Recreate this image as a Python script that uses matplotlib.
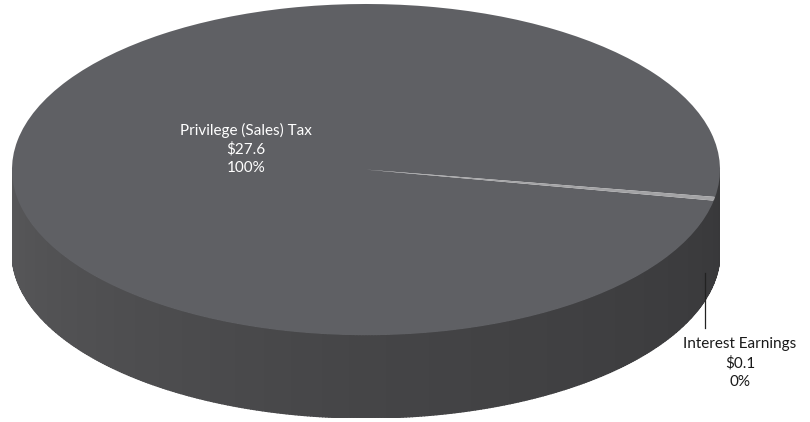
import numpy as np
import matplotlib.pyplot as plt
import matplotlib.colors as mcolors

# data
labels = ["Privilege (Sales) Tax", "Interest Earnings"]
values = [27.6, 0.1]
pct_text = ["100%", "0%"]
top_colors = ["#5f6064", "#a3a3a5"]

plt.rcParams['font.family'] = ['Lato', 'DejaVu Sans']

W, H = 810, 422
fig = plt.figure(figsize=(W / 100, H / 100), dpi=100)

# pie axes (ellipse box)
left, right, top, bottom = 12, 720, 4, 418
depth = 0.50
ax = fig.add_axes([left / W, 1 - bottom / H, (right - left) / W, (bottom - top) / H])
start = -9.5
wedges, _ = ax.pie(values, colors=top_colors, startangle=start, radius=1,
                   wedgeprops=dict(linewidth=0), normalize=True)
ax.set_aspect('auto')
ax.set_xlim(-1, 1)
ax.set_ylim(-1 - depth, 1)
ax.axis('off')

# side of the cylinder (front half only), shaded by angle
c_left = np.array(mcolors.to_rgb("#58585a"))
c_mid = np.array(mcolors.to_rgb("#454547"))
c_right = np.array(mcolors.to_rgb("#38383a"))

def side_color(ang):
    t = (ang - 180) / 180.0
    if t < 0.5:
        return c_left + (c_mid - c_left) * (t / 0.5)
    return c_mid + (c_right - c_mid) * ((t - 0.5) / 0.5)

frac = np.array(values) / sum(values)
bounds = start + 360 * np.concatenate([[0], np.cumsum(frac)])
for i in range(len(values)):
    a0, a1 = bounds[i], bounds[i + 1]
    for shift in (-360, 0, 360):
        lo = max(a0 + shift, 180)
        hi = min(a1 + shift, 360)
        if hi <= lo:
            continue
        steps = np.append(np.arange(lo, hi, 0.5), hi)
        for s0, s1 in zip(steps[:-1], steps[1:]):
            th = np.radians(np.linspace(s0, s1, 3))
            x = np.cos(th)
            y = np.sin(th)
            col = side_color((s0 + s1) / 2)
            ax.fill(np.concatenate([x, x[::-1]]),
                    np.concatenate([y, y[::-1] - depth]),
                    color=col, lw=1.0, ec=col, zorder=0)

# pixel axes on top for labels and leader line
ax_px = fig.add_axes([0, 0, 1, 1])
ax_px.set_xlim(0, W)
ax_px.set_ylim(H, 0)
ax_px.axis('off')
ax_px.set_zorder(5)

ax_px.text(246, 149, f"{labels[0]}\n${values[0]:.1f}\n{pct_text[0]}",
           ha='center', va='center', color='white', fontsize=11, linespacing=1.4)
ax_px.plot([705, 705], [273, 328], color='#222222', lw=0.9)
ax_px.text(740, 363, f"{labels[1]}\n${values[1]:.1f}\n{pct_text[1]}",
           ha='center', va='center', color='#1a1a1a', fontsize=11, linespacing=1.4)

fig.savefig("out.png", dpi=100)
